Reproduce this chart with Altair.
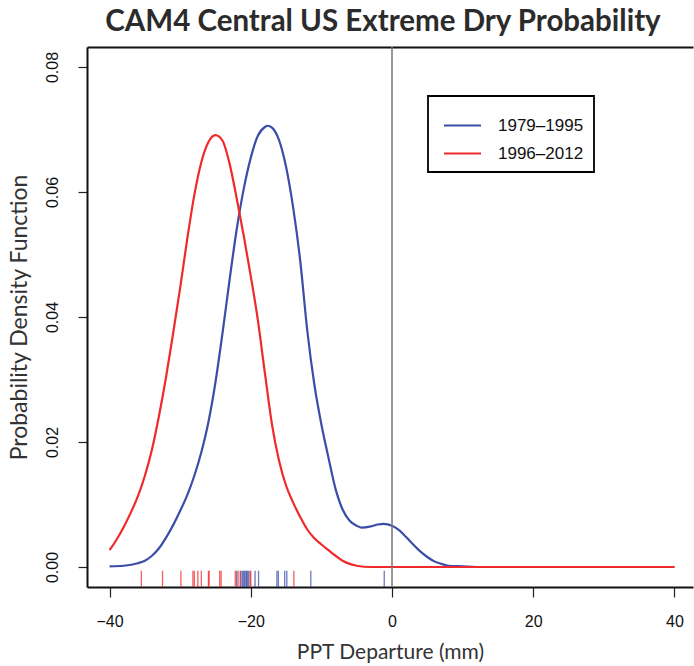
import altair as alt
import pandas as pd

P1 = "1979–1995"
P2 = "1996–2012"

# Density curve for 1979-1995 (blue)
blue_x = [-40, -38, -36, -35, -34, -33, -32, -31, -30, -29, -28, -27, -26, -25, -24, -23, -22,
          -21, -20, -19, -18, -17.6, -17, -16, -15, -14, -13, -12, -11, -10, -9, -8, -7, -6,
          -5, -4.3, -3, -2, -1.2, 0, 1, 2, 3, 4, 5, 6, 7, 8, 10, 12, 20, 30, 40]
blue_y = [0.0001, 0.0002, 0.0006, 0.0010, 0.0018, 0.0030, 0.0047, 0.0067, 0.0090, 0.0115,
          0.0146, 0.0184, 0.0232, 0.0296, 0.0375, 0.0460, 0.0540, 0.0605, 0.0655, 0.0690,
          0.0704, 0.0706, 0.0703, 0.0683, 0.0640, 0.0575, 0.0490, 0.0378, 0.0292, 0.0228,
          0.0175, 0.0125, 0.0092, 0.0074, 0.0066, 0.0063, 0.0065, 0.0068, 0.0069, 0.0066,
          0.0059, 0.0048, 0.0036, 0.0025, 0.0016, 0.0009, 0.0005, 0.0002, 0.0001, 0.0, 0.0,
          0.0, 0.0]

# Density curve for 1996-2012 (red)
red_x = [-40, -39, -38, -37, -36, -35, -34, -33, -32, -31, -30, -29, -28, -27, -26, -25, -24,
         -23, -22, -21, -20, -19, -18, -17, -16, -15, -14, -13, -12, -11, -10, -9, -8, -7, -6,
         -5, -3, 0, 10, 20, 30, 40]
red_y = [0.0027, 0.0044, 0.0064, 0.0087, 0.0113, 0.0146, 0.0188, 0.0242, 0.0304, 0.0374,
         0.0447, 0.0525, 0.0595, 0.0648, 0.0680, 0.0691, 0.0682, 0.0645, 0.0590, 0.0530,
         0.0465, 0.0395, 0.0310, 0.0228, 0.0170, 0.0130, 0.0103, 0.0080, 0.0060, 0.0046,
         0.0036, 0.0027, 0.0018, 0.0010, 0.0005, 0.0002, 0.0, 0.0, 0.0, 0.0, 0.0, 0.0]

# Rug values (individual years)
blue_rug = [-22.0, -21.4, -21.2, -21.0, -20.9, -20.7, -20.6, -20.5, -20.3, -19.4, -18.9,
            -16.3, -16.1, -15.2, -14.9, -11.5, -1.1]
red_rug = [-35.5, -32.5, -29.9, -28.2, -28.0, -27.5, -27.0, -26.0, -25.9, -24.4, -24.2,
           -22.2, -21.8, -21.5, -20.1, -20.0, -13.9]

x_ticks = [-40, -20, 0, 20, 40]
y_ticks = [0.0, 0.02, 0.04, 0.06, 0.08]

curves = pd.DataFrame({
    "x": blue_x + red_x,
    "y": blue_y + red_y,
    "period": [P1] * len(blue_x) + [P2] * len(red_x),
})
rug = pd.DataFrame({
    "x": blue_rug + red_rug,
    "period": [P1] * len(blue_rug) + [P2] * len(red_rug),
})
zero = pd.DataFrame({"x0": [0]})

COLORS = ["#3a4ea8", "#f02a2a"]
XDOM = [-43.2, 42.63]
YDOM = [-0.0032, 0.0832]
xscale = alt.Scale(domain=XDOM, nice=False, zero=False)
yscale = alt.Scale(domain=YDOM, nice=False, zero=False)
color = alt.Color(
    "period:N",
    scale=alt.Scale(domain=[P1, P2], range=COLORS),
    legend=alt.Legend(
        title=None, orient="none", legendX=341, legendY=49,
        symbolType="stroke", symbolSize=1369, symbolStrokeWidth=2,
        labelFont="Liberation Sans", labelFontSize=17, labelColor="#111",
        labelOffset=16, padding=10, rowPadding=-8, symbolOffset=5,
        strokeColor="black", fillColor="white",
    ),
)

xaxis = alt.Axis(values=x_ticks, format="d", tickSize=10, tickColor="#222", tickWidth=1.2,
                 labelFont="Liberation Sans", labelFontSize=16, labelColor="#111",
                 labelPadding=16, domain=True, domainColor="#111", domainWidth=2,
                 grid=False, title="PPT Departure (mm)", titleFont="Lato",
                 titleFontSize=21, titleFontWeight="normal", titleColor="#333",
                 titlePadding=12)
yaxis = alt.Axis(values=y_ticks, format=".2f", tickSize=9, tickColor="#222", tickWidth=1.2,
                 labelFont="Liberation Sans", labelFontSize=16, labelColor="#111",
                 labelAngle=270, labelPadding=26, labelAlign="center", labelBaseline="middle",
                 domain=True, domainColor="#111", domainWidth=2, grid=False,
                 title="Probability Density Function", titleFont="Lato", titleFontSize=23,
                 titleFontWeight="normal", titleColor="#333", titlePadding=13)

lines = alt.Chart(curves).mark_line(strokeWidth=2.2, interpolate="monotone").encode(
    x=alt.X("x:Q", scale=xscale, axis=xaxis),
    y=alt.Y("y:Q", scale=yscale, axis=yaxis),
    color=color,
    order=alt.Order("x:Q"),
)

rugs = alt.Chart(rug).mark_rule(strokeWidth=1.3, opacity=0.75).encode(
    x=alt.X("x:Q", scale=xscale, axis=None),
    y=alt.datum(YDOM[0]),
    y2=alt.datum(-0.0006),
    color=alt.Color("period:N", scale=alt.Scale(domain=[P1, P2], range=COLORS), legend=None),
)

zline = alt.Chart(zero).mark_rule(color="#777", strokeWidth=1.5).encode(
    x=alt.X("x0:Q", scale=xscale,
            axis=alt.Axis(orient="top", labels=False, ticks=False, title="", domain=True,
                          domainColor="#111", domainWidth=2, grid=False)),
)

chart = alt.layer(lines, rugs, zline).resolve_axis(x="independent").properties(
    width=606, height=540,
    autosize=alt.AutoSizeParams(type="none"),
    padding={"left": 87, "top": 47, "right": 1, "bottom": 79},
    title=alt.TitleParams("CAM4 Central US Extreme Dry Probability", font="Lato",
                          fontSize=29.5, fontWeight="bold", color="#2b2b2b",
                          anchor="middle", offset=9, dx=-7),
).configure_view(stroke=None).configure_legend(strokeWidth=1.8)

chart.save("out.html", embed_options={"renderer": "svg", "actions": False})
